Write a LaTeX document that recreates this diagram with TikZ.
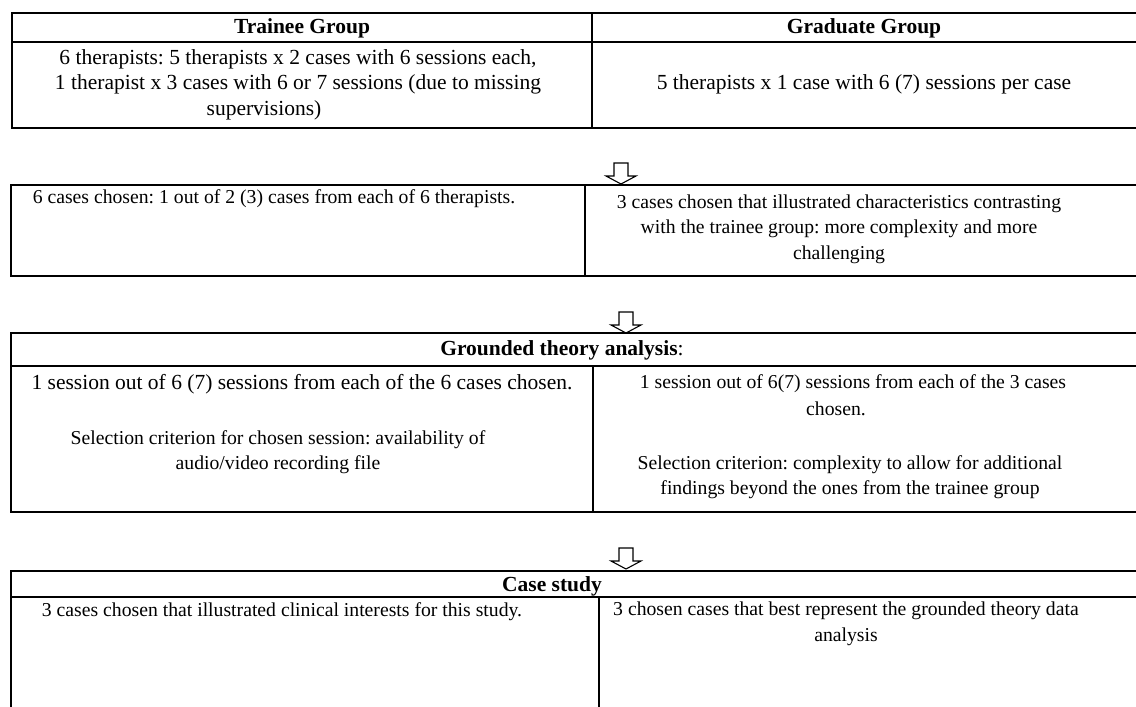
\documentclass[tikz,border=0pt]{standalone}
\usepackage{fontspec}
\setmainfont{Liberation Serif}
\begin{document}
\begin{tikzpicture}[x=1pt,y=-1pt,
  txt/.style={font=\frenchspacing\fontsize{21.5}{25.5}\selectfont, align=center, inner sep=0pt},
  txts/.style={font=\frenchspacing\fontsize{19.7}{25.5}\selectfont, align=center, inner sep=0pt},
  hdr/.style={font=\frenchspacing\fontsize{21.5}{25.5}\selectfont\bfseries, align=center, inner sep=0pt},
  outerline/.style={line width=2pt},
  innerline/.style={line width=1.5pt},
  pics/downarrow/.style={code={
    \draw[line width=1.1pt, fill=white, line join=miter]
      (-7,0) -- (7,0) -- (7,13) -- (15,13) -- (0,21) -- (-15,13) -- (-7,13) -- cycle;}}
]
\useasboundingbox (0,0) rectangle (1136,707);

% ---------- Table 1 ----------
\draw[outerline] (1136,13) -- (12,13) -- (12,128) -- (1136,128);
\draw[innerline] (12,42) -- (1136,42);
\draw[innerline] (592,13) -- (592,128);
\node[hdr] (t1h1) at (302,28.5) {Trainee Group};
\node[hdr] (t1h2) at (864,28.5) {Graduate Group};
\node[txt] (t1a) at (298,72) {6 therapists: 5 therapists x 2 cases with 6 sessions each,\\1 therapist x 3 cases with 6 or 7 sessions (due to missing};
\node[txt] (t1a2) at (264,110) {supervisions)};
\node[txt] (t1b) at (864,84) {5 therapists x 1 case with 6 (7) sessions per case};

\pic at (621,163) {downarrow};

% ---------- Table 2 ----------
\draw[outerline] (1136,185) -- (11,185) -- (11,276) -- (1136,276);
\draw[innerline] (585,185) -- (585,276);
\node[txts] (t2a) at (274,199) {6 cases chosen: 1 out of 2 (3) cases from each of 6 therapists.};
\node[txts] (t2b) at (839,229) {3 cases chosen that illustrated characteristics contrasting\\with the trainee group: more complexity and more\\challenging};

\pic at (626,312) {downarrow};

% ---------- Table 3 ----------
\draw[outerline] (1136,333) -- (11,333) -- (11,512) -- (1136,512);
\draw[innerline] (11,366) -- (1136,366);
\draw[innerline] (593,366) -- (593,512);
\node[txt] (t3h) at (562,350) {\textbf{Grounded theory analysis}:};
\node[txt] (t3a1) at (302,384) {1 session out of 6 (7) sessions from each of the 6 cases chosen.};
\node[txts] (t3a2) at (278,452) {Selection criterion for chosen session: availability of\\audio/video recording file};
\node[txts] (t3b1) at (853,384) {1 session out of 6(7) sessions from each of the 3 cases};
\node[txts] (t3b1b) at (836,409) {chosen.};
\node[txts] (t3b2) at (850,477) {Selection criterion: complexity to allow for additional\\findings beyond the ones from the trainee group};

\pic at (626,548) {downarrow};

% ---------- Table 4 ----------
\draw[outerline] (1136,571) -- (11,571) -- (11,710);
\draw[innerline] (11,597) -- (1136,597);
\draw[innerline] (599,597) -- (599,710);
\node[hdr] (t4h) at (552,586) {Case study};
\node[txts] (t4a) at (282,612) {3 cases chosen that illustrated clinical interests for this study.};
\node[txts] (t4b) at (846,624) {3 chosen cases that best represent the grounded theory data\\analysis};
\end{tikzpicture}
\end{document}
